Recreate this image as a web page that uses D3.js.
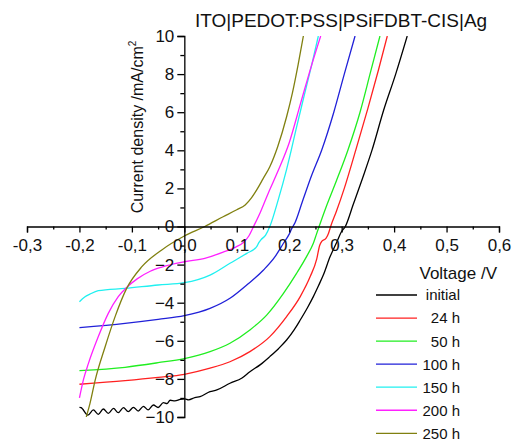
<!DOCTYPE html>
<html>
<head>
<meta charset="utf-8">
<script src="https://cdn.jsdelivr.net/npm/d3@7"></script>
<style>
  body { margin: 0; background: #fff; }
  svg { display: block; font-family: Arial, "Liberation Sans", sans-serif; }
</style>
</head>
<body>
<svg id="chart" width="514" height="441"></svg>
<script>
// J-V data: [voltage V, current density mA/cm2]
var jvInitial = [
  [-0.200, -9.50], [-0.197, -9.51], [-0.184, -9.90], [-0.1735, -9.63], [-0.164, -9.86],
  [-0.1545, -9.58], [-0.145, -9.81], [-0.135, -9.55], [-0.126, -9.77], [-0.116, -9.51],
  [-0.107, -9.72], [-0.097, -9.49], [-0.088, -9.69], [-0.078, -9.44], [-0.069, -9.63],
  [-0.059, -9.37], [-0.050, -9.50], [-0.040, -9.25], [-0.033, -9.30], [-0.027, -9.12],
  [-0.018, -9.15], [-0.008, -9.08], [0.001, -9.05], [0.008, -9.10], [0.020, -8.98],
  [0.030, -8.93], [0.049, -8.67], [0.062, -8.58], [0.087, -8.23], [0.110, -7.95],
  [0.125, -7.62], [0.145, -7.25], [0.163, -6.83], [0.180, -6.40], [0.195, -5.96],
  [0.210, -5.40], [0.221, -4.91], [0.235, -4.25], [0.246, -3.68], [0.256, -3.10],
  [0.265, -2.55], [0.278, -1.58], [0.291, -0.80], [0.299, -0.30], [0.307, 0.00],
  [0.322, 1.15], [0.340, 2.55], [0.358, 4.02], [0.380, 6.10], [0.403, 8.00], [0.425, 10.0]
];
var jv24h = [
  [-0.200, -8.28], [-0.113, -8.09], [-0.050, -7.92], [0.000, -7.76], [0.049, -7.44],
  [0.087, -7.10], [0.125, -6.57], [0.163, -5.78], [0.195, -4.73], [0.221, -3.68],
  [0.240, -2.63], [0.2525, -1.70], [0.258, -1.00], [0.262, -0.78], [0.270, -0.62],
  [0.275, -0.35], [0.279, 0.00], [0.290, 0.80], [0.305, 2.00], [0.327, 4.02],
  [0.350, 6.20], [0.370, 8.20], [0.387, 10.0]
];
var jv50h = [
  [-0.200, -7.57], [-0.113, -7.39], [-0.050, -7.15], [0.000, -6.93], [0.049, -6.57],
  [0.087, -6.13], [0.125, -5.43], [0.157, -4.65], [0.189, -3.51], [0.214, -2.46],
  [0.233, -1.58], [0.246, -0.88], [0.252, -0.40], [0.257, 0.00], [0.270, 1.00],
  [0.290, 2.40], [0.312, 4.02], [0.335, 6.00], [0.355, 8.10], [0.373, 10.0]
];
var jv100h = [
  [-0.200, -5.31], [-0.113, -5.08], [-0.050, -4.87], [0.000, -4.68], [0.049, -4.30],
  [0.087, -3.77], [0.119, -3.07], [0.151, -2.28], [0.173, -1.58], [0.189, -0.88],
  [0.200, -0.40], [0.205, -0.10], [0.211, 0.20], [0.225, 1.30], [0.243, 2.70],
  [0.262, 4.02], [0.285, 6.00], [0.305, 8.00], [0.3255, 10.0]
];
var jv150h = [
  [-0.200, -3.95], [-0.190, -3.70], [-0.180, -3.55], [-0.164, -3.37], [-0.113, -3.25],
  [-0.050, -3.07], [0.000, -2.95], [0.049, -2.55], [0.087, -1.93], [0.119, -1.41],
  [0.138, -1.06], [0.142, -0.85], [0.146, -0.70], [0.155, -0.45], [0.163, 0.00],
  [0.179, 1.40], [0.195, 3.00], [0.204, 4.02], [0.213, 5.10], [0.227, 6.70],
  [0.243, 8.50], [0.2555, 10.0]
];
var jv200h = [
  [-0.200, -9.00], [-0.192, -8.00], [-0.183, -7.20], [-0.164, -5.78], [-0.145, -4.56],
  [-0.126, -3.68], [-0.110, -3.20], [-0.090, -2.75], [-0.065, -2.35], [-0.043, -2.13],
  [0.000, -1.85], [0.039, -1.67], [0.074, -1.35], [0.098, -1.08], [0.112, -0.85],
  [0.123, -0.50], [0.132, 0.00], [0.145, 0.75], [0.160, 1.75], [0.180, 3.00],
  [0.200, 4.40], [0.222, 6.50], [0.243, 8.50], [0.260, 10.0]
];
var jv250h = [
  [-0.187, -10.0], [-0.180, -9.30], [-0.170, -8.06], [-0.151, -6.31], [-0.132, -4.73],
  [-0.110, -3.25], [-0.081, -2.11], [-0.043, -1.23], [0.000, -0.50], [0.039, 0.00],
  [0.074, 0.51], [0.100, 0.88], [0.116, 1.13], [0.128, 1.50], [0.138, 1.92],
  [0.150, 2.50], [0.163, 3.14], [0.178, 4.19], [0.195, 5.76], [0.206, 7.00],
  [0.217, 8.50], [0.227, 10.0]
];

var seriesNames = ['initial', '24 h', '50 h', '100 h', '150 h', '200 h', '250 h'];
var seriesColors = ['#000000', '#ff2020', '#20ee20', '#2020d8', '#20f0f0', '#ff20ff', '#808010'];
var seriesData = [jvInitial, jv24h, jv50h, jv100h, jv150h, jv200h, jv250h];

var xTicks = [-0.3, -0.2, -0.1, 0.0, 0.1, 0.2, 0.3, 0.4, 0.5, 0.6];
var yTicks = [-10, -8, -6, -4, -2, 0, 2, 4, 6, 8, 10];

var svg = d3.select('#chart');

var x = d3.scaleLinear().domain([-0.3, 0.6]).range([27, 499]);
var y = d3.scaleLinear().domain([-10, 10]).range([417, 36]);

svg.append('defs').append('clipPath').attr('id', 'plot-clip')
  .append('rect')
  .attr('x', x(-0.3)).attr('y', y(10))
  .attr('width', x(0.6) - x(-0.3)).attr('height', y(-10) - y(10));

// curves
var line = d3.line()
  .x(function(d) { return x(d[0]); })
  .y(function(d) { return y(d[1]); })
  .curve(d3.curveMonotoneX);

svg.append('g').attr('clip-path', 'url(#plot-clip)')
  .selectAll('path')
  .data(seriesData)
  .join('path')
  .attr('d', line)
  .attr('fill', 'none')
  .attr('stroke', function(d, i) { return seriesColors[i]; })
  .attr('stroke-width', 1.3);

// x axis sits on J = 0
var xFmt = function(d) { return d.toFixed(1).replace('.', ','); };
var xMinor = d3.range(-0.25, 0.6, 0.1);

svg.append('g')
  .attr('transform', 'translate(0,' + y(0) + ')')
  .call(d3.axisBottom(x).tickValues(xTicks).tickFormat(xFmt).tickSize(6).tickPadding(6));
svg.append('g')
  .attr('transform', 'translate(0,' + y(0) + ')')
  .call(d3.axisBottom(x).tickValues(xMinor).tickFormat('').tickSize(3))
  .select('.domain').remove();

// y axis sits on V = 0
svg.append('g')
  .attr('transform', 'translate(' + x(0) + ',0)')
  .call(d3.axisLeft(y).tickValues(yTicks).tickSize(7).tickPadding(3));
svg.append('g')
  .attr('transform', 'translate(' + x(0) + ',0)')
  .call(d3.axisLeft(y).tickValues(d3.range(-9, 10, 2)).tickFormat('').tickSize(4))
  .select('.domain').remove();

svg.selectAll('.domain, .tick line')
  .attr('stroke', '#000')
  .attr('stroke-width', 1.3);
svg.selectAll('.tick text')
  .attr('font-family', 'Arial, "Liberation Sans", sans-serif')
  .attr('font-size', 17)
  .attr('fill', '#111');

// titles
svg.append('text')
  .attr('x', 195).attr('y', 27)
  .attr('font-size', 19)
  .attr('fill', '#111')
  .text('ITO|PEDOT:PSS|PSiFDBT-CIS|Ag');

var yLabel = svg.append('text')
  .attr('transform', 'translate(143,127) rotate(-90)')
  .attr('text-anchor', 'middle')
  .attr('font-size', 16)
  .attr('fill', '#111');
yLabel.append('tspan').text('Current density /mA/cm');
yLabel.append('tspan').attr('font-size', 10).attr('dy', -7).text('2');

svg.append('text')
  .attr('x', 497).attr('y', 279)
  .attr('text-anchor', 'end')
  .attr('font-size', 17)
  .attr('fill', '#111')
  .text('Voltage /V');

// legend
var legend = svg.append('g')
  .selectAll('g')
  .data(seriesNames)
  .join('g')
  .attr('transform', function(d, i) { return 'translate(0,' + (295 + i * 23.05) + ')'; });

legend.append('line')
  .attr('x1', 376).attr('x2', 417)
  .attr('stroke', function(d, i) { return seriesColors[i]; })
  .attr('stroke-width', 1.3);

legend.append('text')
  .attr('x', 460).attr('dy', '0.36em')
  .attr('text-anchor', 'end')
  .attr('font-size', 15)
  .attr('fill', '#111')
  .text(function(d) { return d; });
</script>
</body>
</html>
